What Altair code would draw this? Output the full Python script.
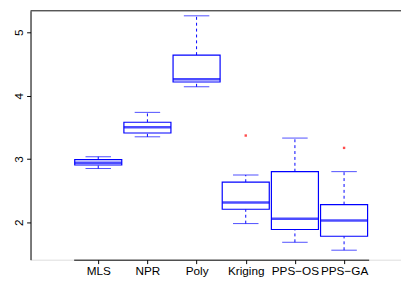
import altair as alt
import pandas as pd

methods = ["MLS", "NPR", "Poly", "Kriging", "PPS\u2212OS", "PPS\u2212GA"]
lower = [2.85, 3.35, 4.14, 1.98, 1.685, 1.56]
q1 = [2.905, 3.41, 4.215, 2.206, 1.886, 1.78]
median = [2.94, 3.50, 4.26, 2.314, 2.056, 2.03]
q3 = [2.99, 3.58, 4.64, 2.634, 2.80, 2.28]
upper = [3.035, 3.736, 5.26, 2.747, 3.33, 2.80]
out_methods = ["Kriging", "PPS\u2212GA"]
out_values = [3.37, 3.175]

df = pd.DataFrame({"m": methods, "lo": lower, "q1": q1, "med": median, "q3": q3, "hi": upper})
dfo = pd.DataFrame({"m": out_methods, "v": out_values})

W, H = 378, 254
blue = "#0000ff"
font = "Liberation Sans"

xsc = alt.Scale(domain=methods, range=[44, 345], type="point")
ysc = alt.Scale(domain=[1.41, 5.34], nice=False, zero=False)

xenc = alt.X("m:N", scale=xsc, sort=methods,
             axis=alt.Axis(title=None, labelAngle=0, tickSize=4, labelPadding=2,
                           domainColor="black", tickColor="black", labelColor="black",
                           labelFont=font, labelFontSize=12, grid=False))
yaxis = alt.Axis(title=None, values=[2, 3, 4, 5], format="d", tickSize=4, labelAngle=-90,
                 labelAlign="center", labelBaseline="alphabetic", labelPadding=4,
                 domainColor="black", tickColor="black", labelColor="black",
                 labelFont=font, labelFontSize=12, grid=False)

base = alt.Chart(df)

w_lo = base.mark_rule(color=blue, strokeDash=[3, 3], strokeWidth=1).encode(
    x=xenc, y=alt.Y("lo:Q", scale=ysc, axis=yaxis), y2="q1:Q")
w_hi = base.mark_rule(color=blue, strokeDash=[3, 3], strokeWidth=1).encode(
    x=xenc, y=alt.Y("q3:Q", scale=ysc), y2="hi:Q")
cap_lo = base.mark_tick(color=blue, orient="horizontal", size=26, thickness=1).encode(
    x=xenc, y=alt.Y("lo:Q", scale=ysc))
cap_hi = base.mark_tick(color=blue, orient="horizontal", size=26, thickness=1).encode(
    x=xenc, y=alt.Y("hi:Q", scale=ysc))
box = base.mark_rect(color=blue, fill="white", stroke=blue, strokeWidth=1.2,
                     strokeOpacity=1, fillOpacity=1).encode(
    x=alt.X("m:N", scale=xsc, sort=methods), xOffset=alt.value(0),
    y=alt.Y("q1:Q", scale=ysc), y2="q3:Q")
box = base.mark_bar(width=48, fill="white", stroke=blue, strokeWidth=1.2).encode(
    x=xenc, y=alt.Y("q3:Q", scale=ysc), y2="q1:Q")
med = base.mark_tick(color=blue, orient="horizontal", size=48, thickness=2.5).encode(
    x=xenc, y=alt.Y("med:Q", scale=ysc))
outl = alt.Chart(dfo).mark_point(color="red", filled=True, size=6, shape="square").encode(
    x=xenc, y=alt.Y("v:Q", scale=ysc))
top = alt.Chart(pd.DataFrame({"a": [0]})).mark_rule(color="#222222", strokeWidth=1.2).encode(
    x=alt.value(0), x2=alt.value(W), y=alt.value(0))

chart = alt.layer(top, w_lo, w_hi, cap_lo, cap_hi, box, med, outl).properties(
    width=W, height=H,
    autosize=alt.AutoSizeParams(type="none"),
    padding={"left": 23, "top": 0, "right": 0, "bottom": 22},
).configure_view(stroke=None).configure(background="white")

chart.save("out.html", embed_options={"renderer": "svg", "actions": False})
